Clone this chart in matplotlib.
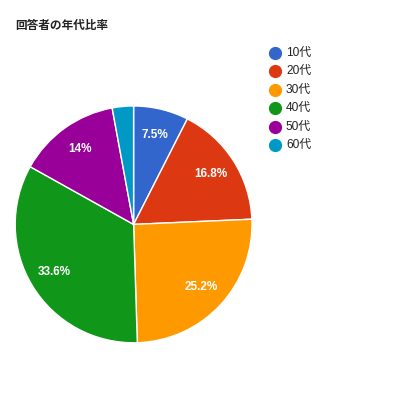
import matplotlib
matplotlib.use("Agg")
import matplotlib.pyplot as plt
from matplotlib.lines import Line2D
import numpy as np

plt.rcParams['font.family'] = ['Liberation Sans', 'Noto Sans CJK JP']

title = "回答者の年代比率"
labels = ["10代", "20代", "30代", "40代", "50代", "60代"]
values = [7.5, 16.8, 25.2, 33.6, 14.0, 2.9]
pct_labels = ["7.5%", "16.8%", "25.2%", "33.6%", "14%", ""]
colors = ["#3366cc", "#dc3912", "#ff9900", "#109618", "#990099", "#0099c6"]

fig = plt.figure(figsize=(4, 4), dpi=100)
fig.text(0.038, 0.936, title, fontsize=8.4, fontweight="bold", color="#222222", va="center",
         family=['Noto Sans CJK JP'])

ax = fig.add_axes([0.038, 0.143, 0.592, 0.592])
wedges, _ = ax.pie(values, colors=colors, startangle=90, counterclock=False,
                   wedgeprops=dict(edgecolor="white", linewidth=1))
ax.set_xlim(-1, 1)
ax.set_ylim(-1, 1)
ax.set_aspect("equal")

total = sum(values)
cum = 0
for v, t in zip(values, pct_labels):
    mid = 90 - (cum + v / 2) / total * 360
    cum += v
    if t:
        r = 0.78
        ax.text(r * np.cos(np.radians(mid)), r * np.sin(np.radians(mid)), t,
                color="white", fontsize=8.5, fontweight="bold", ha="center", va="center")

# legend drawn row by row to match the spacing
for i, (lab, c) in enumerate(zip(labels, colors)):
    y = 1 - (53 + i * 18.4) / 400
    fig.lines.append(Line2D([275 / 400], [y], transform=fig.transFigure, marker="o",
                            linestyle="", markersize=8.5, markerfacecolor=c, markeredgecolor=c))
    fig.text(286 / 400, y, lab, fontsize=8.6, color="#222222", va="center", ha="left")

fig.savefig("out.png", dpi=100)
